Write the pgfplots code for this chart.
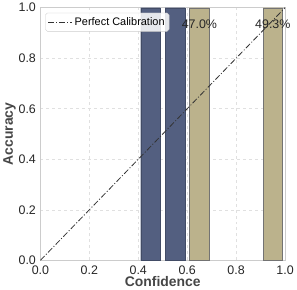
\documentclass[border=0pt]{standalone}
\usepackage{fontspec}
\setmainfont{Liberation Sans}
\usepackage{pgfplots}
\pgfplotsset{compat=1.18}
\definecolor{barblue}{RGB}{83,95,128}
\definecolor{barkhaki}{RGB}{187,178,140}
\definecolor{frame}{RGB}{204,204,204}
\definecolor{labgray}{RGB}{70,70,70}
\begin{document}
\begin{tikzpicture}
\begin{axis}[
  scale only axis,
  width=246pt, height=254pt,
  xmin=0, xmax=1, ymin=0, ymax=1,
  xtick={0,0.2,0.4,0.6,0.8,1.0},
  ytick={0,0.2,0.4,0.6,0.8,1.0},
  xticklabels={0.0,0.2,0.4,0.6,0.8,1.0},
  yticklabels={0.0,0.2,0.4,0.6,0.8,1.0},
  /pgf/number format/assume math mode=true,
  tick label style={font=\fontsize{12.5}{14}\selectfont, text=black!85},
  xticklabel style={yshift=-2pt},
  yticklabel style={xshift=-1pt},
  tick style={draw=none},
  axis line style={draw=frame, line width=0.8pt},
  grid=major,
  major grid style={dashed, draw=black!12, line width=0.5pt},
  xlabel={\textbf{Confidence}},
  ylabel={\textbf{Accuracy}},
  label style={font=\fontsize{14}{16}\selectfont, text=labgray},
  xlabel style={yshift=5pt},
  ylabel style={yshift=-4pt},
  legend style={at={(0.02,0.98)}, anchor=north west, draw=frame, rounded corners=2pt,
    fill=white, fill opacity=0.85, text opacity=1, font=\fontsize{11}{13}\selectfont,
    inner sep=2.5pt},
  legend image code/.code={\draw[#1] (0pt,0pt) -- (24pt,0pt);},
  legend cell align=left,
]
\addplot[ybar, bar width=0.08, bar shift=0pt, fill=barblue, draw=barblue!80!black, line width=0.4pt, forget plot]
  coordinates {(0.45,1.0) (0.55,1.0)};
\addplot[ybar, bar width=0.08, bar shift=0pt, fill=barkhaki, draw=black!55, line width=0.4pt, forget plot,
  point meta=explicit symbolic, nodes near coords,
  nodes near coords style={anchor=center, yshift=-17pt, text=black!85, font=\fontsize{12.5}{14}\selectfont}]
  coordinates {(0.65,1.0) [47.0\%] (0.95,1.0) [49.3\%]};
\addplot[black!80, line width=0.8pt, dash pattern=on 6pt off 2pt on 1pt off 2pt]
  coordinates {(0,0) (1,1)};
\addlegendentry{Perfect Calibration}
\end{axis}
\end{tikzpicture}
\end{document}
